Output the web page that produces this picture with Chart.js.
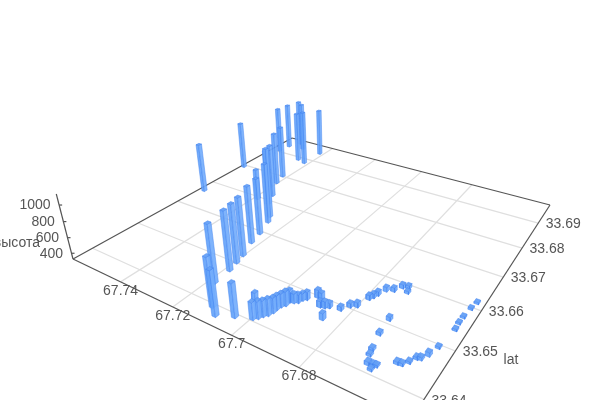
<!DOCTYPE html>
<html>
<head>
<meta charset="utf-8">
<style>html,body{margin:0;padding:0;background:#fff}canvas{display:block}</style>
<script src="https://cdn.jsdelivr.net/npm/chart.js@4"></script>
</head>
<body>
<canvas id="c" width="600" height="400"></canvas>
<script>
const lonValues = [
  67.7583,67.7593,67.7569,67.7563,67.7542,67.7502,67.7455,67.7418,67.7416,67.7418,67.7404,67.7357,67.7275,67.7258,67.7332,67.7386,67.7236,67.7225,67.7201,67.7193,67.7184,67.7180,67.7114,67.7084,67.7039,67.6996,
  67.6987,67.6981,67.6973,67.6969,67.6969,67.6966,67.6959,67.6959,67.6948,67.6939,67.6935,67.6927,67.7043,67.6907,67.6895,67.6881,67.6869,67.6859,67.6848,67.6829,67.6815,67.6800,67.6789,67.6783,67.6778,67.6768,
  67.6750,67.6737,67.6722,67.6715,67.6705,67.6700,67.6689,67.6685,67.6674,67.6661,67.6655,67.6660,67.6619,67.6608,67.6597,67.6588,67.6579,67.6569,67.6560,67.6550,67.6552,67.6551,67.6547,67.6542
];
const latValues = [
  33.6662,33.6793,33.6906,33.6938,33.6965,33.6944,33.6888,33.6881,33.6942,33.6801,33.6769,33.6720,33.6651,33.6633,33.6689,33.6694,33.6593,33.6562,33.6523,33.6501,33.6478,33.6440,33.6394,33.6381,33.6394,33.6405,
  33.6411,33.6418,33.6424,33.6433,33.6442,33.6450,33.6456,33.6466,33.6468,33.6472,33.6480,33.6485,33.6443,33.6498,33.6497,33.6481,33.6483,33.6487,33.6459,33.6491,33.6505,33.6511,33.6536,33.6543,33.6552,33.6568,
  33.6574,33.6589,33.6593,33.6581,33.6510,33.6475,33.6443,33.6432,33.6416,33.6417,33.6419,33.6409,33.6438,33.6439,33.6448,33.6460,33.6462,33.6474,33.6495,33.6541,33.6557,33.6573,33.6597,33.6615
];
const heightValues = [
  991,987,991,990,1005,1032,1041,1103,1007,1054,1046,1039,1238,1105,1066,743,1050,1055,1062,1060,1067,1044,920,866,734,535,
  535,523,528,509,497,490,503,476,442,430,415,423,411,427,411,403,410,390,409,378,380,385,385,380,381,381,
  378,376,368,360,372,366,360,356,370,362,352,352,360,358,352,356,362,374,350,350,350,350,350,350
];
const lonTicks = [67.74,67.72,67.7,67.68];
const latTicks = [33.64,33.65,33.66,33.67,33.68,33.69];
const heightTicks = [400,600,800,1000];
const lonMin = 67.6521, lonMax = 67.7605, latMin = 33.6361, latMax = 33.6982, zMin = 325, zMax = 1130;

// floor corners and the point the verticals run to
const A = [73,259], N = [410,421], R = [550,205], B = [292,138], VP = [347,1325];
const dx1 = N[0]-R[0], dx2 = B[0]-R[0], sx = A[0]-N[0]+R[0]-B[0];
const dy1 = N[1]-R[1], dy2 = B[1]-R[1], sy = A[1]-N[1]+R[1]-B[1];
const den = dx1*dy2-dx2*dy1, g = (sx*dy2-dx2*sy)/den, h = (dx1*sy-sx*dy1)/den;
const a = N[0]-A[0]+g*N[0], b = B[0]-A[0]+h*B[0], d = N[1]-A[1]+g*N[1], e = B[1]-A[1]+h*B[1];
const lambda = -(A[1]-194)/(VP[1]-194);

function project(lon, lat, z) {
  const u = (lonMax-lon)/(lonMax-lonMin), v = (lat-latMin)/(latMax-latMin), t = (z-zMin)/(zMax-zMin);
  const w = g*u+h*v+1+t*lambda;
  return {x: (a*u+b*v+A[0]+t*lambda*VP[0])/w, y: (d*u+e*v+A[1]+t*lambda*VP[1])/w};
}

const halfLon = 0.0006, halfLat = 0.0004;
const seg = (p, q, color, width) => ({data: [p,q], borderColor: color, borderWidth: width, showLine: true, pointRadius: 0, fill: false});
const bars = [];
const face = (pts, fill) => bars.push({data: [...pts, pts[0]], showLine: true, pointRadius: 0, borderWidth: 0.6, borderColor: 'rgba(65,130,240,0.75)', backgroundColor: fill, fill: 'shape'});
const order = lonValues.map((_, i) => i).sort((p, q) => project(lonValues[p],latValues[p],zMin).y - project(lonValues[q],latValues[q],zMin).y);
order.forEach(i => {
  const l0 = lonValues[i]-halfLon, l1 = lonValues[i]+halfLon, m0 = latValues[i]-halfLat, m1 = latValues[i]+halfLat, z = heightValues[i];
  face([project(l1,m0,zMin),project(l0,m0,zMin),project(l0,m0,z),project(l1,m0,z)], 'rgba(100,163,250,0.92)');
  face([project(l0,m0,zMin),project(l0,m1,zMin),project(l0,m1,z),project(l0,m0,z)], 'rgba(116,174,252,0.92)');
  face([project(l1,m0,z),project(l0,m0,z),project(l0,m1,z),project(l1,m1,z)], 'rgba(100,160,245,0.95)');
});

const grid = [];
lonTicks.forEach(l => grid.push(seg(project(l,latMin,zMin),project(l,latMax,zMin),'#dfdfdf',1.2)));
latTicks.forEach(l => grid.push(seg(project(lonMin,l,zMin),project(lonMax,l,zMin),'#dfdfdf',1.2)));
const axisColor = '#555';
const corners = [[lonMax,latMin],[lonMin,latMin],[lonMin,latMax],[lonMax,latMax],[lonMax,latMin]];
for (let i = 0; i < 4; i++) grid.push(seg(project(corners[i][0],corners[i][1],zMin),project(corners[i+1][0],corners[i+1][1],zMin),axisColor,1.2));
grid.push(seg(project(lonMax,latMin,zMin),project(lonMax,latMin,zMax),axisColor,1.2));
heightTicks.forEach(z => { const p = project(lonMax,latMin,z); grid.push(seg(p,{x:p.x+3,y:p.y},axisColor,1.2)); });

const labels = {id: 'labels', afterDraw(chart) {
  const c = chart.ctx;
  c.save();
  c.font = '14px "Liberation Sans"'; c.fillStyle = '#555'; c.textBaseline = 'middle';
  c.textAlign = 'center';
  lonTicks.forEach(l => { const p = project(l,latMin,zMin); c.fillText(String(l),p.x,p.y+9); });
  c.textAlign = 'left';
  latTicks.forEach(l => { const p = project(lonMin,l,zMin); c.fillText(String(l),p.x+7.5,p.y+1.5); });
  c.textAlign = 'right';
  heightTicks.forEach(z => { const p = project(lonMax,latMin,z); c.fillText(String(z),p.x-8.5,p.y+0.5); });
  c.fillText('высота',40,243);
  c.textAlign = 'center';
  c.fillText('lat',511,360);
  c.restore();
}};

new Chart(document.getElementById('c'), {
  type: 'scatter',
  data: {datasets: [...bars.reverse(), ...grid.reverse()]},
  options: {
    responsive: false, animation: false, events: [], layout: {padding: 0},
    plugins: {legend: {display: false}, tooltip: {enabled: false}},
    scales: {
      x: {type: 'linear', min: 0, max: 600, display: false},
      y: {type: 'linear', min: 0, max: 400, reverse: true, display: false}
    }
  },
  plugins: [labels]
});
</script>
</body>
</html>
